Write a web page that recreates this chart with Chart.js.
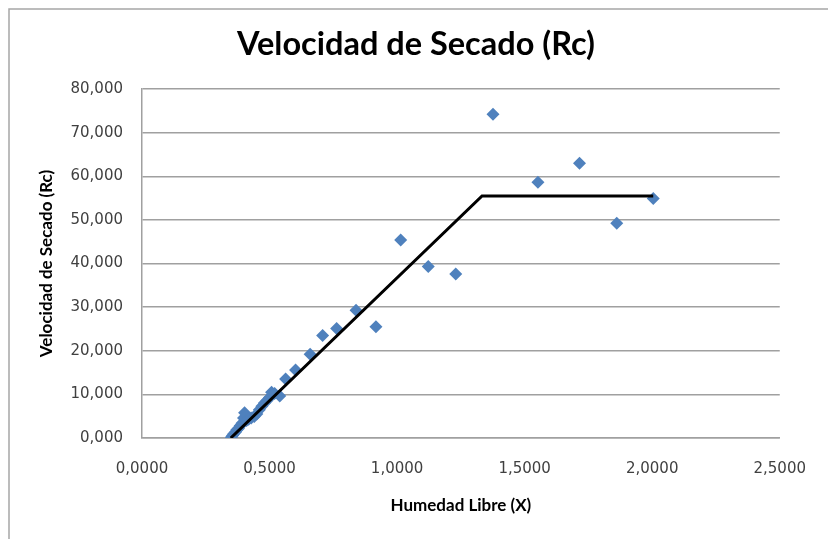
<!DOCTYPE html>
<html>
<head>
<meta charset="utf-8">
<script src="https://cdn.jsdelivr.net/npm/chart.js@4"></script>
<style>
  html, body { margin: 0; padding: 0; background: #fff; }
  #wrap { width: 828px; height: 539px; position: relative; }
</style>
</head>
<body>
<div id="wrap"><canvas id="rcChart" width="828" height="539"></canvas></div>
<script>
// ====== DATA ======
const humedadX = [0.350, 0.355, 0.360, 0.366, 0.372, 0.378, 0.385, 0.392, 0.398, 0.402,
  0.410, 0.418, 0.428, 0.440, 0.450, 0.460, 0.470, 0.480, 0.490, 0.500,
  0.508, 0.520, 0.540, 0.563, 0.602, 0.659, 0.708, 0.763, 0.839, 0.917,
  1.014, 1.122, 1.230, 1.376, 1.552, 1.715, 1.861, 2.004];
const velocidadRc = [0.2, 0.6, 1.0, 1.3, 1.9, 2.2, 2.8, 3.4, 4.6, 5.8,
  4.0, 4.3, 4.6, 4.9, 5.5, 6.5, 7.3, 8.0, 8.6, 9.3,
  10.5, 10.2, 9.6, 13.5, 15.6, 19.2, 23.5, 25.1, 29.3, 25.5,
  45.4, 39.3, 37.6, 74.2, 58.6, 63.0, 49.2, 54.9];

// tramo decreciente + tramo constante
const ajusteX = [0.348, 1.333, 2.004];
const ajusteY = [0, 55.5, 55.5];

const xTickStep = 0.5;
const yTickStep = 10;

const chartTitle = 'Velocidad de Secado (Rc)';

// ====== CHART ======
const fmt = (v, d) => v.toFixed(d).replace('.', ',');

// marco gris exterior + titulo (centrado como en Excel, no sobre el area de ejes)
const framePlugin = {
  id: 'frameAndTitle',
  beforeDraw(chart) {
    const c = chart.ctx;
    c.save();
    c.strokeStyle = '#A6A6A6';
    c.lineWidth = 1.5;
    c.beginPath();
    c.moveTo(9, 539);
    c.lineTo(9, 9);
    c.lineTo(828, 9);
    c.stroke();
    c.restore();
  },
  afterDraw(chart) {
    const c = chart.ctx;
    c.save();
    c.fillStyle = '#000';
    c.font = 'bold 32.5px Lato';
    c.textAlign = 'center';
    c.textBaseline = 'middle';
    c.fillText(chartTitle, 416, 45);
    c.restore();
  }
};

new Chart(document.getElementById('rcChart'), {
  type: 'scatter',
  data: {
    datasets: [
      {
        label: 'Ajuste',
        type: 'line',
        data: ajusteX.map((x, i) => ({ x, y: ajusteY[i] })),
        borderColor: '#000000',
        borderWidth: 3,
        pointRadius: 0,
        fill: false,
        tension: 0,
        order: 0
      },
      {
        label: 'Rc',
        data: humedadX.map((x, i) => ({ x, y: velocidadRc[i] })),
        pointStyle: 'rectRot',
        pointRadius: 6.5,
        backgroundColor: '#4F81BD',
        borderColor: '#4F81BD',
        borderWidth: 0,
        order: 1
      }
    ]
  },
  options: {
    responsive: false,
    animation: false,
    layout: { padding: { left: 0, right: 47, top: 89, bottom: 0 } },
    plugins: {
      legend: { display: false },
      tooltip: { enabled: false },
      title: { display: false }
    },
    scales: {
      x: {
        type: 'linear',
        min: 0,
        max: 2.5,
        grid: { display: false, drawTicks: false },
        border: { color: '#A0A0A0', width: 1.5 },
        ticks: {
          stepSize: xTickStep,
          padding: 22,
          color: '#404040',
          font: { family: 'DejaVu Sans', size: 15 },
          callback: v => fmt(v, 4)
        },
        title: {
          display: true,
          text: 'Humedad Libre (X)',
          color: '#000',
          font: { family: 'Lato', size: 17, weight: 'bold' },
          padding: { top: 0, bottom: 23 }
        },
        afterFit: s => { s.height = 101; }
      },
      y: {
        min: 0,
        max: 80,
        grid: { color: '#A0A0A0', lineWidth: 1.5, drawTicks: false },
        border: { color: '#A0A0A0', width: 1.5 },
        ticks: {
          stepSize: yTickStep,
          padding: 19,
          color: '#404040',
          font: { family: 'DejaVu Sans', size: 15 },
          callback: v => fmt(v, 3)
        },
        title: {
          display: true,
          text: 'Velocidad de Secado (Rc)',
          color: '#000',
          font: { family: 'Lato', size: 17, weight: 'bold' },
          padding: { top: 36, bottom: 0 }
        },
        afterFit: s => { s.width = 142; }
      }
    }
  },
  plugins: [framePlugin]
});
</script>
</body>
</html>
